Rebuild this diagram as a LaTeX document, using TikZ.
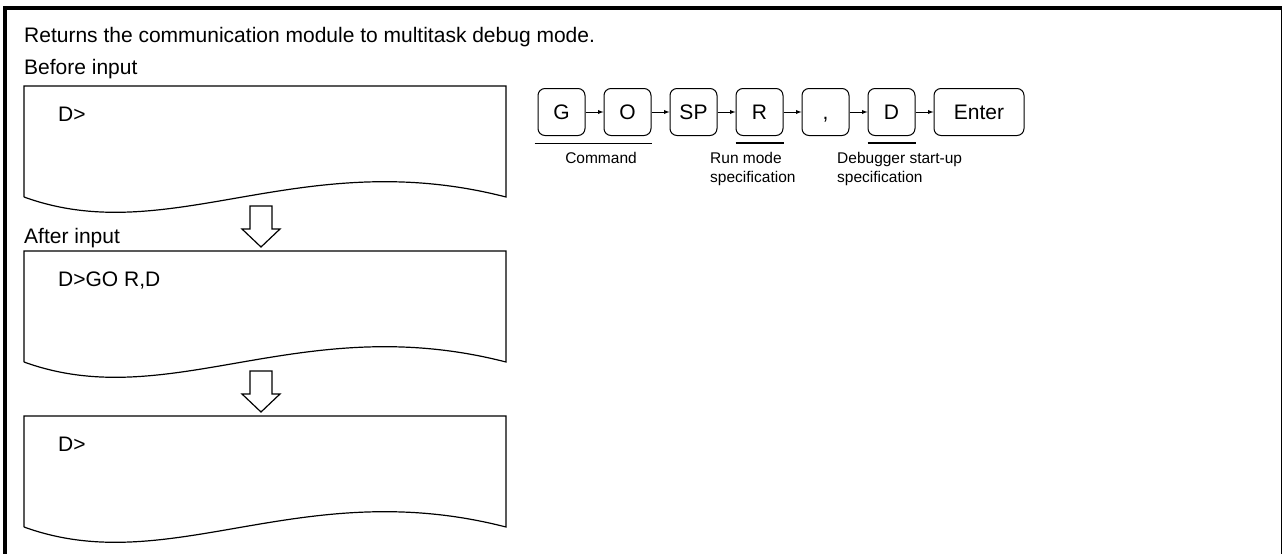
\documentclass[tikz,border=0pt]{standalone}
\usepackage{fontspec}
\setmainfont{Liberation Sans}
\usetikzlibrary{arrows,positioning}

\begin{document}
\begin{tikzpicture}[x=1pt,y=-1pt,
	key/.style={draw, rounded corners=7pt, line width=1pt, minimum width=47pt, minimum height=47pt, inner sep=0pt, text height=15pt, text depth=0pt, font=\fontsize{21}{25}\selectfont},
	txt/.style={anchor=base west, inner sep=0pt, font=\fontsize{21}{25}\selectfont},
	lbl/.style={anchor=base west, inner sep=0pt, align=left, font=\fontsize{15.5}{19}\selectfont}]
			\useasboundingbox (0,0) rectangle (1283,554);
			% frame
			\draw[line width=4pt] (5,554) -- (5,8) -- (1281,8);
			\draw[line width=1.3pt] (1281.5,6) -- (1281.5,554);
			\node[txt] (title) at (24,42) {Returns the communication module to multitask debug mode.};
			\node[txt] (before) at (24,74) {Before input};
			\node[txt] (after) at (24,243) {After input};
			% screens
			\draw[line width=1.2pt] (24,197) -- (24,86) -- (506,86) -- (506,197) .. controls (300,144) and (170,250) .. (24,197);
			\draw[line width=1.2pt] (24,362) -- (24,251) -- (506,251) -- (506,362) .. controls (300,309) and (170,415) .. (24,362);
			\draw[line width=1.2pt] (24,527) -- (24,416) -- (506,416) -- (506,527) .. controls (300,474) and (170,580) .. (24,527);
			\node[txt] (scr1) at (58,121) {D>};
			\node[txt] (scr2) at (58,286) {D>GO R,D};
			\node[txt] (scr3) at (58,451) {D>};
			% block arrows
			\draw[line width=1.2pt] (250,206) -- (272,206) -- (272,229) -- (280,229) -- (261,247) -- (242,229) -- (250,229) -- cycle;
			\draw[line width=1.2pt] (250,371) -- (272,371) -- (272,394) -- (280,394) -- (261,412) -- (242,394) -- (250,394) -- cycle;
			% key sequence
			\node[key] (g) at (561.5,112) {G};
			\node[key, right=18pt of g] (o) {O};
			\node[key, right=18pt of o] (sp) {SP};
			\node[key, right=18pt of sp] (r) {R};
			\node[key, right=18pt of r] (comma) {,};
			\node[key, right=18pt of comma] (d) {D};
			\node[key, right=18pt of d, minimum width=90pt] (enter) {Enter};
			\draw[-latex, line width=0.9pt] (g) -- (o);
			\draw[-latex, line width=0.9pt] (o) -- (sp);
			\draw[-latex, line width=0.9pt] (sp) -- (r);
			\draw[-latex, line width=0.9pt] (r) -- (comma);
			\draw[-latex, line width=0.9pt] (comma) -- (d);
			\draw[-latex, line width=0.9pt] (d) -- (enter);
			\draw[line width=0.8pt] ([xshift=-3pt,yshift=-7pt]g.south west) -- ([yshift=-7pt]o.south east);
			\draw[line width=2pt] ([yshift=-7pt]r.south west) -- ([yshift=-7pt]r.south east);
			\draw[line width=2pt] ([yshift=-7pt]d.south west) -- ([yshift=-7pt]d.south east);
			\node[lbl, anchor=base] (cmd) at (601,163) {Command};
			\node[lbl] (runmode) at (710,182) {Run mode\\specification};
			\node[lbl] (dbg) at (837,182) {Debugger start-up\\specification};
		\end{tikzpicture}
\end{document}
